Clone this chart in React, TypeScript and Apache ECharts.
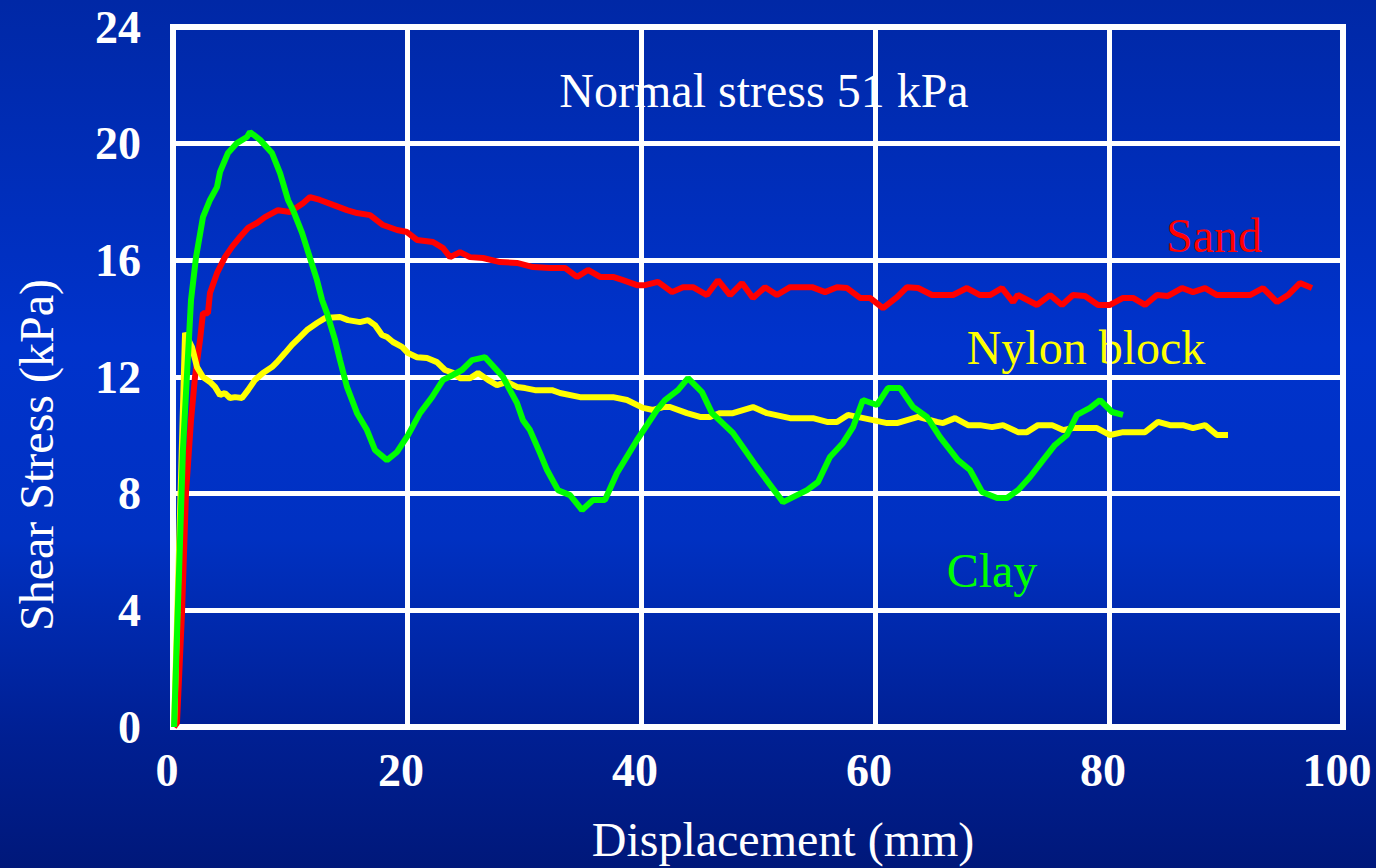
import React, { useEffect, useRef } from "react";
import * as echarts from "echarts";

const xTicks = [0, 20, 40, 60, 80, 100];
const yTicks = [0, 4, 8, 12, 16, 20, 24];

const sandData: [number, number][] = [
  [0.09, 0], [0.34, 0.14], [0.77, 3.91], [1.11, 8.02], [1.54, 10.52], [1.88, 12.0], [2.31, 13.27],
  [2.56, 14.19], [2.99, 14.19], [3.16, 14.88], [3.76, 15.56], [4.44, 16.11], [5.04, 16.46],
  [5.73, 16.8], [6.41, 17.11], [7.18, 17.28], [7.86, 17.48], [8.97, 17.72], [10.0, 17.66],
  [11.11, 17.96], [11.71, 18.17], [12.56, 18.07], [13.68, 17.9], [14.87, 17.72], [15.73, 17.62],
  [16.84, 17.55], [17.95, 17.21], [19.15, 17.04], [20.0, 16.97], [20.85, 16.7], [22.22, 16.63],
  [23.08, 16.42], [23.68, 16.11], [24.53, 16.28], [25.38, 16.11], [26.5, 16.08], [27.95, 15.94],
  [29.4, 15.91], [30.77, 15.77], [32.22, 15.74], [33.5, 15.74], [34.53, 15.43], [35.47, 15.67],
  [36.5, 15.43], [37.61, 15.43], [38.46, 15.32], [39.66, 15.15], [40.34, 15.15], [41.45, 15.26],
  [42.65, 14.91], [43.59, 15.08], [44.44, 15.08], [45.64, 14.81], [46.58, 15.32], [47.61, 14.81],
  [48.63, 15.22], [49.57, 14.71], [50.6, 15.08], [51.62, 14.81], [52.74, 15.08], [54.62, 15.08],
  [55.73, 14.91], [56.75, 15.08], [57.61, 15.05], [58.72, 14.71], [59.57, 14.71], [60.68, 14.36],
  [61.88, 14.74], [62.74, 15.08], [63.68, 15.05], [64.87, 14.81], [66.67, 14.81], [67.86, 15.05],
  [68.97, 14.81], [69.83, 14.81], [70.85, 15.05], [71.8, 14.57], [72.2, 14.81], [73.85, 14.47],
  [74.96, 14.81], [75.98, 14.47], [76.92, 14.81], [77.95, 14.78], [79.06, 14.47], [80.09, 14.47],
  [81.2, 14.71], [82.05, 14.71], [83.08, 14.47], [84.1, 14.81], [85.04, 14.78], [86.24, 15.05],
  [87.18, 14.91], [88.21, 15.05], [89.23, 14.81], [92.05, 14.81], [93.16, 15.05], [94.36, 14.57],
  [95.3, 14.81], [96.32, 15.22], [97.35, 15.05],
];

const nylonData: [number, number][] = [
  [0.09, 0], [1.03, 13.51], [1.62, 13.03], [2.05, 12.34], [2.56, 12.0], [3.16, 11.83], [3.59, 11.66],
  [4.02, 11.38], [4.44, 11.45], [4.87, 11.28], [5.3, 11.31], [5.9, 11.28], [6.41, 11.55],
  [7.01, 11.9], [7.69, 12.14], [8.46, 12.34], [8.89, 12.51], [9.57, 12.82], [10.17, 13.1],
  [10.85, 13.37], [11.45, 13.61], [12.31, 13.85], [12.99, 14.02], [14.27, 14.06], [14.96, 13.95],
  [15.98, 13.88], [16.67, 13.95], [17.26, 13.78], [17.86, 13.44], [18.29, 13.37], [18.8, 13.2],
  [19.57, 13.03], [20.09, 12.82], [20.85, 12.68], [21.71, 12.65], [22.56, 12.51], [23.25, 12.24],
  [23.93, 12.14], [24.53, 11.96], [25.38, 11.96], [26.07, 12.14], [26.92, 11.9], [27.69, 11.72],
  [28.55, 11.83], [29.4, 11.66], [30.09, 11.62], [30.94, 11.55], [32.39, 11.55], [33.08, 11.45],
  [34.79, 11.31], [37.61, 11.31], [38.8, 11.21], [40.17, 10.94], [41.03, 10.87], [41.88, 10.97],
  [42.48, 10.97], [43.93, 10.76], [45.04, 10.63], [45.9, 10.63], [46.75, 10.76], [47.86, 10.76],
  [49.57, 10.97], [50.77, 10.76], [52.74, 10.59], [54.7, 10.59], [55.9, 10.46], [56.75, 10.46],
  [57.69, 10.7], [59.83, 10.52], [61.03, 10.42], [61.88, 10.42], [63.68, 10.63], [65.3, 10.46],
  [65.81, 10.42], [66.84, 10.59], [67.95, 10.35], [68.97, 10.35], [70.0, 10.28], [70.94, 10.35],
  [72.22, 10.11], [72.99, 10.11], [73.93, 10.35], [75.13, 10.35], [76.07, 10.18], [76.92, 10.25],
  [78.97, 10.25], [80.09, 10.01], [81.2, 10.11], [83.08, 10.11], [84.19, 10.46], [85.21, 10.35],
  [86.32, 10.35], [87.18, 10.25], [88.21, 10.35], [89.23, 10.01], [90.17, 10.01],
];

const clayData: [number, number][] = [
  [0.09, 0], [0.85, 9.5], [1.54, 14.64], [1.97, 16.11], [2.56, 17.48], [3.16, 18.07], [3.76, 18.51],
  [4.02, 19.03], [4.7, 19.68], [5.47, 20.02], [6.32, 20.23], [6.58, 20.4], [7.44, 20.13],
  [8.46, 19.68], [9.15, 18.99], [9.83, 18.07], [10.26, 17.72], [11.03, 16.94], [12.31, 15.32],
  [12.74, 14.64], [13.16, 14.19], [13.85, 13.27], [14.27, 12.58], [14.87, 11.66], [15.73, 10.76],
  [16.58, 10.18], [17.26, 9.5], [18.29, 9.15], [19.15, 9.43], [20.09, 10.01], [21.11, 10.76],
  [22.14, 11.31], [23.08, 11.9], [23.93, 12.07], [24.7, 12.24], [25.56, 12.58], [26.67, 12.68],
  [28.21, 12.0], [28.8, 11.55], [29.4, 11.11], [29.91, 10.52], [30.51, 10.18], [31.37, 9.39],
  [31.97, 8.81], [32.91, 8.12], [33.93, 7.95], [34.96, 7.44], [35.9, 7.78], [36.92, 7.78],
  [37.95, 8.71], [39.66, 9.84], [41.37, 10.87], [42.05, 11.21], [43.16, 11.55], [44.02, 11.96],
  [45.21, 11.48], [46.07, 10.76], [47.86, 10.08], [49.91, 8.91], [52.14, 7.71], [54.19, 8.12],
  [55.13, 8.4], [56.15, 9.26], [57.26, 9.74], [58.12, 10.28], [58.97, 11.21], [60.17, 11.04],
  [61.11, 11.62], [62.14, 11.62], [63.25, 10.97], [64.44, 10.63], [65.56, 9.94], [67.09, 9.15],
  [68.12, 8.81], [69.15, 8.06], [70.43, 7.85], [71.28, 7.85], [72.22, 8.12], [73.25, 8.57],
  [74.36, 9.15], [75.38, 9.67], [76.41, 10.01], [77.26, 10.7], [78.38, 10.94], [79.23, 11.21],
  [80.26, 10.8], [81.2, 10.7],
];

const FONT = '"Liberation Serif", "Times New Roman", serif';

export default function App() {
  const ref = useRef<HTMLDivElement>(null);
  useEffect(() => {
    if (!ref.current) return;
    const chart = echarts.init(ref.current, undefined, { renderer: "svg" });
    chart.setOption({
      animation: false,
      backgroundColor: {
        type: "linear", x: 0, y: 0, x2: 0, y2: 1,
        colorStops: [
          { offset: 0, color: "#0028a6" },
          { offset: 0.4, color: "#0033cc" },
          { offset: 0.62, color: "#0031c2" },
          { offset: 0.85, color: "#001f92" },
          { offset: 1, color: "#00187a" },
        ],
      },
      grid: {
        left: 173, right: 33, top: 27, bottom: 141,
        show: true, borderColor: "#ffffff", borderWidth: 6, backgroundColor: "transparent",
      },
      xAxis: {
        type: "value", min: xTicks[0], max: xTicks[xTicks.length - 1], interval: 20,
        axisLine: { show: false }, axisTick: { show: false },
        splitLine: { show: true, lineStyle: { color: "#ffffff", width: 5 } },
        axisLabel: {
          color: "#ffffff", fontFamily: FONT, fontWeight: "bold", fontSize: 46,
          margin: 20, padding: [0, 12, 0, 0],
        },
      },
      yAxis: {
        type: "value", min: yTicks[0], max: yTicks[yTicks.length - 1], interval: 4,
        axisLine: { show: false }, axisTick: { show: false },
        splitLine: { show: true, lineStyle: { color: "#ffffff", width: 5 } },
        axisLabel: {
          color: "#ffffff", fontFamily: FONT, fontWeight: "bold", fontSize: 46, margin: 32,
        },
      },
      graphic: [
        {
          type: "text", x: 764, y: 90,
          style: { text: "Normal stress 51 kPa", fill: "#ffffff", font: `48px ${FONT}`, textAlign: "center", textVerticalAlign: "middle" },
        },
        {
          type: "text", x: 1214, y: 235,
          style: { text: "Sand", fill: "#ff0000", font: `48px ${FONT}`, textAlign: "center", textVerticalAlign: "middle" },
        },
        {
          type: "text", x: 1086, y: 347,
          style: { text: "Nylon block", fill: "#ffff00", font: `48px ${FONT}`, textAlign: "center", textVerticalAlign: "middle" },
        },
        {
          type: "text", x: 992, y: 570,
          style: { text: "Clay", fill: "#00ff00", font: `48px ${FONT}`, textAlign: "center", textVerticalAlign: "middle" },
        },
        {
          type: "text", x: 783, y: 839,
          style: { text: "Displacement (mm)", fill: "#ffffff", font: `48px ${FONT}`, textAlign: "center", textVerticalAlign: "middle" },
        },
        {
          type: "text", x: 36, y: 455, rotation: Math.PI / 2,
          style: { text: "Shear Stress (kPa)", fill: "#ffffff", font: `48px ${FONT}`, textAlign: "center", textVerticalAlign: "middle" },
        },
      ],
      series: [
        { name: "Sand", type: "line", data: sandData, showSymbol: false, lineStyle: { color: "#ff0000", width: 6 }, itemStyle: { color: "#ff0000" } },
        { name: "Nylon block", type: "line", data: nylonData, showSymbol: false, lineStyle: { color: "#ffff00", width: 6 }, itemStyle: { color: "#ffff00" } },
        { name: "Clay", type: "line", data: clayData, showSymbol: false, lineStyle: { color: "#00ff00", width: 6 }, itemStyle: { color: "#00ff00" } },
      ],
    });
    return () => chart.dispose();
  }, []);
  return <div ref={ref} style={{ position: "fixed", left: 0, top: 0, width: 1376, height: 868 }} />;
}
